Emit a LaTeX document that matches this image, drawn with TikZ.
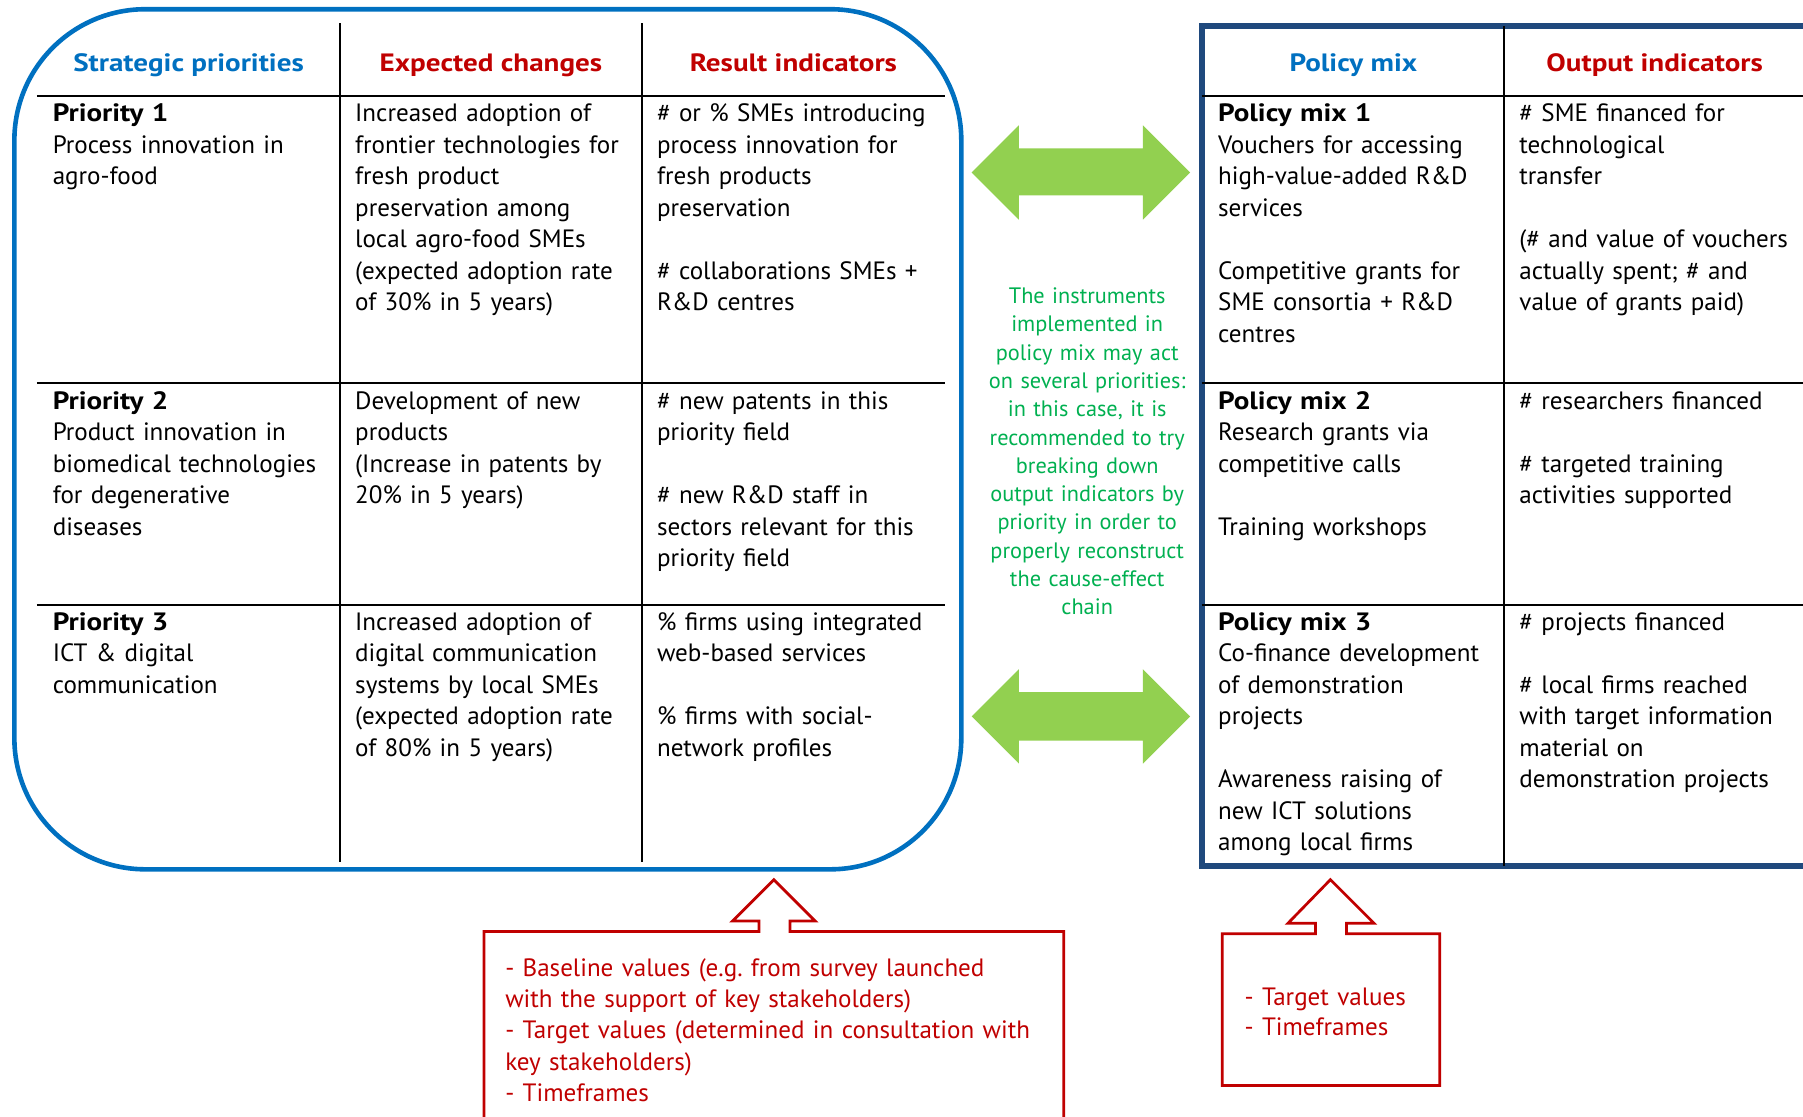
\documentclass[tikz,border=0pt]{standalone}
\usepackage{fontspec}
\setmainfont{PT Sans}[BoldFeatures={FakeStretch=1.16}]
\definecolor{ecblue}{RGB}{0,112,192}
\definecolor{ecred}{RGB}{192,0,0}
\definecolor{navyframe}{RGB}{31,73,125}
\definecolor{notegreen}{RGB}{0,176,80}
\definecolor{arrowgreen}{RGB}{146,208,80}
\frenchspacing
\begin{document}
\begin{tikzpicture}[x=0.5pt,y=-0.5pt,
  tline/.style={black, line width=0.9pt},
  celltext/.style={anchor=base west, inner sep=0pt, text width=150pt, align=left,
    font=\fontsize{10.9}{13.7}\selectfont},
  hdrblue/.style={anchor=base, inner sep=0pt, text=ecblue, font=\bfseries\fontsize{10.9}{13}\selectfont},
  hdrred/.style={anchor=base, inner sep=0pt, text=ecred, font=\bfseries\fontsize{10.9}{13}\selectfont},
  notetext/.style={anchor=base, inner sep=0pt, text width=110pt, align=center, text=notegreen,
    font=\fontsize{9.7}{12.3}\selectfont},
  calltext/.style={anchor=base west, inner sep=0pt, text width=260pt, align=left, text=ecred,
    font=\fontsize{10.9}{13.6}\selectfont},
  dblarrow/.style={fill=arrowgreen, draw=none},
  callout/.style={draw=ecred, line width=1.2pt, line join=miter}
]
\useasboundingbox (0,0) rectangle (1568,971);
\clip (0,0) rectangle (1568,971);

% ---------- left rounded frame ----------
\draw[ecblue, line width=2pt, rounded corners=57pt] (12.5,8) rectangle (836,756);
\draw[tline] (296,20) -- (296,750);
\draw[tline] (558,20) -- (558,750);
\draw[tline] (32,83.5) -- (822,83.5);
\draw[tline] (32,333) -- (822,333);
\draw[tline] (32,526) -- (822,526);

% ---------- right table frame ----------
\draw[navyframe, line width=2.6pt] (1620,22.5) -- (1045,22.5) -- (1045,753) -- (1620,753);
\draw[tline] (1308,22.5) -- (1308,753);
\draw[tline] (1045,83.5) -- (1620,83.5);
\draw[tline] (1045,333) -- (1620,333);
\draw[tline] (1045,526) -- (1620,526);

% ---------- headers ----------
\node[hdrblue] (hsp) at (164,62) {Strategic priorities};
\node[hdrred]  (hec) at (427,62) {Expected changes};
\node[hdrred]  (hri) at (690,62) {Result indicators};
\node[hdrblue] (hpm) at (1177,62) {Policy mix};
\node[hdrred]  (hoi) at (1439,62) {Output indicators};

% ---------- left table cells ----------
\node[celltext] (p1) at (45.5,106) {\textbf{Priority 1}\\Process innovation in\\agro-food};
\node[celltext] (e1) at (308.5,106) {Increased adoption of\\frontier technologies for\\fresh product\\preservation among\\local agro-food SMEs\\(expected adoption rate\\of 30\% in 5 years)};
\node[celltext] (r1) at (571,106) {\# or \% SMEs introducing\\process innovation for\\fresh products\\preservation\\[13.7pt]\# collaborations SMEs +\\R\&D centres};

\node[celltext] (p2) at (45.5,356) {\textbf{Priority 2}\\Product innovation in\\biomedical technologies\\for degenerative\\diseases};
\node[celltext] (e2) at (308.5,356) {Development of new\\products\\(Increase in patents by\\20\% in 5 years)};
\node[celltext] (r2) at (571,356) {\# new patents in this\\priority field\\[13.7pt]\# new R\&D staff in\\sectors relevant for this\\priority field};

\node[celltext] (p3) at (45.5,548) {\textbf{Priority 3}\\ICT \& digital\\communication};
\node[celltext] (e3) at (308.5,548) {Increased adoption of\\digital communication\\systems by local SMEs\\(expected adoption rate\\of 80\% in 5 years)};
\node[celltext] (r3) at (571,548) {\% firms using integrated\\web-based services\\[13.7pt]\% firms with social-\\network profiles};

% ---------- right table cells ----------
\node[celltext] (m1) at (1059,106) {\textbf{Policy mix 1}\\Vouchers for accessing\\high-value-added R\&D\\services\\[13.7pt]Competitive grants for\\SME consortia + R\&D\\centres};
\node[celltext] (o1) at (1321,106) {\# SME financed for\\technological\\transfer\\[13.7pt](\# and value of vouchers\\actually spent; \# and\\value of grants paid)};

\node[celltext] (m2) at (1059,356) {\textbf{Policy mix 2}\\Research grants via\\competitive calls\\[13.7pt]Training workshops};
\node[celltext] (o2) at (1321,356) {\# researchers financed\\[13.7pt]\# targeted training\\activities supported};

\node[celltext] (m3) at (1059,548) {\textbf{Policy mix 3}\\Co-finance development\\of demonstration\\projects\\[13.7pt]Awareness raising of\\new ICT solutions\\among local firms};
\node[celltext] (o3) at (1321,548) {\# projects financed\\[13.7pt]\# local firms reached\\with target information\\material on\\demonstration projects};

% ---------- green note ----------
\node[notetext] (note) at (945.5,264) {The instruments\\implemented in\\policy mix may act\\on several priorities:\\in this case, it is\\recommended to try\\breaking down\\output indicators by\\priority in order to\\properly reconstruct\\the cause-effect\\chain};

% ---------- green double arrows ----------
\fill[dblarrow] (845,150) -- (886,109) -- (886,129) -- (994,129) -- (994,109) -- (1035,150)
  -- (994,191) -- (994,170) -- (886,170) -- (886,191) -- cycle;
\fill[dblarrow] (845,623) -- (886,582) -- (886,602) -- (994,602) -- (994,582) -- (1035,623)
  -- (994,664) -- (994,644) -- (886,644) -- (886,664) -- cycle;

% ---------- red callouts ----------
\draw[callout] (421,990) -- (421,810) -- (660,810) -- (660,801) -- (637,801) -- (673,765)
  -- (709,801) -- (687,801) -- (687,810) -- (925,810) -- (925,990);
\node[calltext] (c1) at (439,849) {- Baseline values (e.g. from survey launched\\with the support of key stakeholders)\\- Target values (determined in consultation with\\key stakeholders)\\- Timeframes};

\draw[callout] (1063,944) -- (1063,812) -- (1144,812) -- (1144,803) -- (1120,803) -- (1157,765)
  -- (1195,803) -- (1171,803) -- (1171,812) -- (1252,812) -- (1252,944) -- cycle;
\node[calltext] (c2) at (1082,874) {- Target values\\[-0.3pt]- Timeframes};
\end{tikzpicture}
\end{document}
